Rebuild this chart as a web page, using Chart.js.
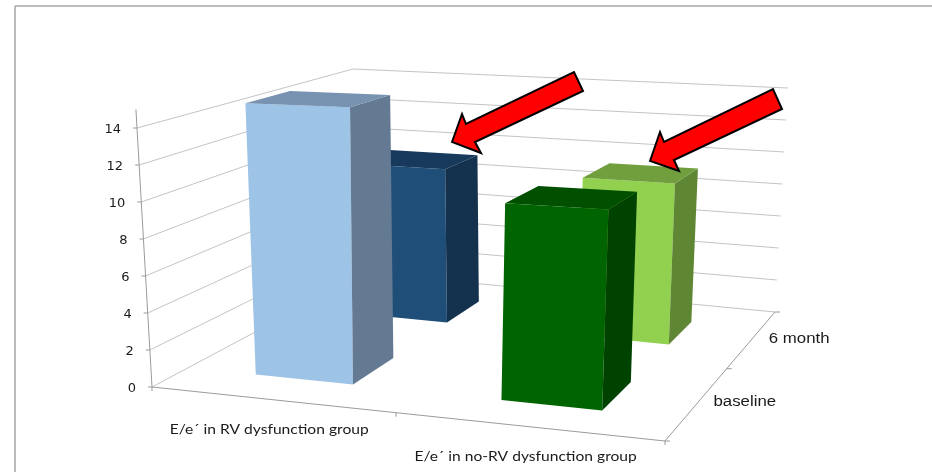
<!DOCTYPE html>
<html>
<head>
<meta charset="utf-8">
<title>E/e´ 3D bars</title>
<style>
    html, body { margin: 0; padding: 0; background: #fff; }
    canvas { display: block; }
</style>
<script src="https://cdn.jsdelivr.net/npm/chart.js@4"></script>
</head>
<body>
<canvas id="chart" width="932" height="472"></canvas>
<script>
// Chart values
const categories = ['E/e´ in RV dysfunction group', 'E/e´ in no-RV dysfunction group'];
const depthLabels = ['baseline', '6 month'];
const baselineValues = [15, 10.3];
const sixMonthValues = [9.4, 9.4];

// Bar face colours, one per category
const baselineFront = ['#9DC3E6', '#006400'];
const baselineSide = ['#647A92', '#004300'];
const baselineTop = ['#7893B2', '#005000'];
const sixMonthFront = ['#1F4E79', '#92D050'];
const sixMonthSide = ['#14324E', '#5F8633'];
const sixMonthTop = ['#173A5C', '#729F3E'];

// Box of the 3D plot on the page: front-left, front-right, back-right, back-left
const floorCorners = [[152, 387], [665, 441], [775, 312], [366, 273]];
const topCorners = [[137, 128], [675, 151.5], [788, 88], [353, 69]];
const topValue = 14;
const axisMax = 15;
const barDepth = 0.2;
const midTick = 0.485;

// Red callout arrows
const arrows = [
    [[452, 142], [462, 114], [466, 124], [574, 72], [583, 91], [475, 142], [481, 153]],
    [[650, 161], [660, 132], [664, 142], [773, 89], [782, 109], [674, 160], [679, 171]]
];

// Maps the unit square onto a quad, (u, v) -> page position
function squareToQuad(q) {
    const [p0, p1, p2, p3] = q;
    const dx1 = p1[0] - p2[0], dx2 = p3[0] - p2[0], sx = p0[0] - p1[0] + p2[0] - p3[0];
    const dy1 = p1[1] - p2[1], dy2 = p3[1] - p2[1], sy = p0[1] - p1[1] + p2[1] - p3[1];
    const det = dx1 * dy2 - dx2 * dy1;
    const g = (sx * dy2 - dx2 * sy) / det;
    const h = (dx1 * sy - sx * dy1) / det;
    const a = p1[0] - p0[0] + g * p1[0], b = p3[0] - p0[0] + h * p3[0];
    const d = p1[1] - p0[1] + g * p1[1], e = p3[1] - p0[1] + h * p3[1];
    return (u, v) => {
        const w = g * u + h * v + 1;
        return [(a * u + b * v + p0[0]) / w, (d * u + e * v + p0[1]) / w];
    };
}

const floorMap = squareToQuad(floorCorners);
const topMap = squareToQuad(topCorners);

// u across categories, v into the depth, w = 1 at topValue
function project(u, v, w) {
    const f = floorMap(u, v);
    const t = topMap(u, v);
    return [f[0] + (t[0] - f[0]) * w, f[1] + (t[1] - f[1]) * w];
}

function line(ctx, a, b) {
    ctx.beginPath();
    ctx.moveTo(a[0], a[1]);
    ctx.lineTo(b[0], b[1]);
    ctx.stroke();
}

function polygon(ctx, points, fill) {
    ctx.beginPath();
    points.forEach((p, i) => i ? ctx.lineTo(p[0], p[1]) : ctx.moveTo(p[0], p[1]));
    ctx.closePath();
    ctx.fillStyle = fill;
    ctx.fill();
}

function label(ctx, text, x, y, font, stretch, align) {
    ctx.save();
    ctx.font = font;
    ctx.textAlign = align;
    ctx.textBaseline = 'middle';
    ctx.fillStyle = '#1a1a1a';
    ctx.translate(x, y);
    ctx.scale(stretch, 1);
    ctx.fillText(text, 0, 0);
    ctx.restore();
}

const plot3d = {
    id: 'plot3d',
    beforeDatasetsDraw(chart) {
        const ctx = chart.ctx;
        const area = chart.chartArea;
        const xScale = chart.scales.x;
        const yScale = chart.scales.y;
        const toW = value => (yScale.getPixelForValue(0) - yScale.getPixelForValue(value)) /
            (yScale.getPixelForValue(0) - yScale.getPixelForValue(topValue));

        ctx.save();

        // Outer frame, only top and left are in the picture
        ctx.strokeStyle = '#A6A6A6';
        ctx.lineWidth = 1.5;
        line(ctx, [932, 6], [15, 6]);
        line(ctx, [15, 6], [15, 472]);

        // Walls
        ctx.strokeStyle = '#C4C4C4';
        ctx.lineWidth = 1;
        yScale.ticks.forEach(t => {
            const w = toW(t.value);
            line(ctx, project(0, 0, w), project(0, 1, w));
            line(ctx, project(0, 1, w), project(1, 1, w));
        });

        // Floor edges and axis lines
        ctx.strokeStyle = '#9A9A9A';
        line(ctx, project(0, 0, 0), project(1, 0, 0));
        line(ctx, project(1, 0, 0), project(1, 1, 0));
        line(ctx, project(0, 0, 0), project(0, 0, toW(axisMax)));

        // Value axis ticks and labels
        yScale.ticks.forEach(t => {
            const p = project(0, 0, toW(t.value));
            line(ctx, [p[0] - 4, p[1]], p);
            label(ctx, t.label, p[0] - 16, p[1] + 2, '13px "DejaVu Sans"', 1, 'right');
        });

        // Category ticks and labels
        [0, midTick, 1].forEach(u => {
            const p = project(u, 0, 0);
            line(ctx, p, [p[0], p[1] + 4]);
        });
        categories.forEach((name, i) => {
            const u = (xScale.getPixelForValue(i) - area.left) / area.width;
            const p = project(u, 0, 0);
            label(ctx, name, p[0] - 7.5, p[1] + 30, '13px Lato', 1.2, 'center');
        });

        // Depth ticks and labels
        [0, 0.5, 1].forEach(v => {
            const p = project(1, v, 0);
            line(ctx, p, [p[0] + 5, p[1]]);
        });
        depthLabels.forEach((name, i) => {
            const p = project(1, (i + 0.5) / depthLabels.length, 0);
            label(ctx, name, p[0] + 47, p[1], '14px "Liberation Sans"', 1.2, 'center');
        });

        // Bars, back row first so the front row covers it
        [1, 0].forEach(di => {
            const ds = chart.data.datasets[di];
            const v0 = (di + 0.5) / chart.data.datasets.length - barDepth / 2 - 0.01;
            const v1 = v0 + barDepth;
            chart.getDatasetMeta(di).data.forEach((bar, i) => {
                const u0 = (bar.x - bar.width / 2 - area.left) / area.width - 0.01;
                const u1 = u0 + bar.width / area.width;
                const w = (bar.base - bar.y) / (bar.base - yScale.getPixelForValue(topValue));
                polygon(ctx, [project(u0, v0, 0), project(u1, v0, 0), project(u1, v0, w), project(u0, v0, w)], ds.backgroundColor[i]);
                polygon(ctx, [project(u1, v0, 0), project(u1, v1, 0), project(u1, v1, w), project(u1, v0, w)], ds.sideColor[i]);
                polygon(ctx, [project(u0, v0, w), project(u1, v0, w), project(u1, v1, w), project(u0, v1, w)], ds.topColor[i]);
            });
        });

        // Callout arrows
        ctx.strokeStyle = '#000';
        ctx.lineWidth = 2;
        ctx.lineJoin = 'miter';
        arrows.forEach(points => {
            polygon(ctx, points, '#FF0000');
            ctx.stroke();
        });

        ctx.restore();
        return false; // bars are painted above, skip the flat ones
    }
};

new Chart(document.getElementById('chart').getContext('2d'), {
    type: 'bar',
    data: {
        labels: categories,
        datasets: [
            { label: depthLabels[0], data: baselineValues, backgroundColor: baselineFront, sideColor: baselineSide, topColor: baselineTop, grouped: false, barPercentage: 0.4, categoryPercentage: 1 },
            { label: depthLabels[1], data: sixMonthValues, backgroundColor: sixMonthFront, sideColor: sixMonthSide, topColor: sixMonthTop, grouped: false, barPercentage: 0.4, categoryPercentage: 1 }
        ]
    },
    options: {
        responsive: false,
        animation: false,
        plugins: { legend: { display: false }, tooltip: { enabled: false } },
        scales: {
            x: { display: false },
            y: { display: false, min: 0, max: axisMax, ticks: { stepSize: 2, includeBounds: false } }
        }
    },
    plugins: [plot3d]
});
</script>
</body>
</html>
